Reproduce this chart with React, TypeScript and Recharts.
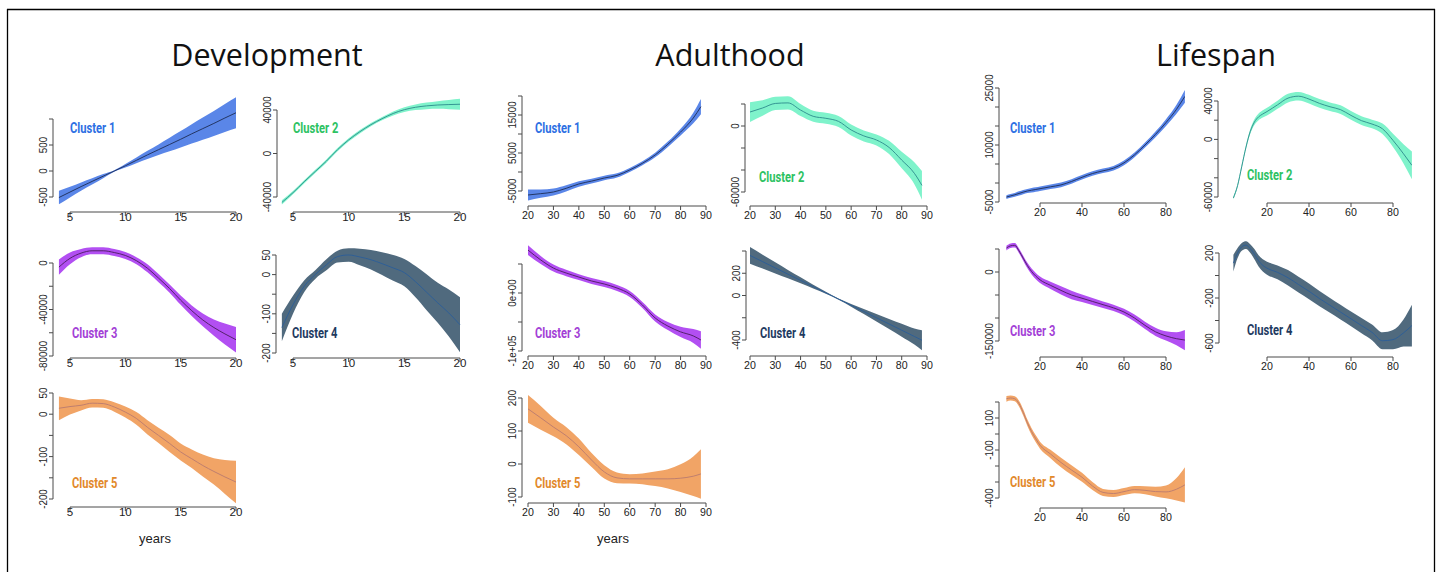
import React from 'react';
import { ComposedChart, Area, Line, XAxis, YAxis } from 'recharts';

// ---------- data ----------
const devYears = [4, 5, 6, 7, 8, 9, 10, 11, 12, 13, 14, 15, 16, 17, 18, 19, 20];
const adultYears = [20, 25, 30, 35, 40, 45, 50, 55, 60, 65, 70, 75, 80, 85, 88];
const lifeYears = [4, 6, 8, 10, 12, 14, 16, 18, 20, 25, 30, 35, 40, 45, 50, 55, 60, 65, 70, 75, 80, 85, 89];

const devXTicks = [5, 10, 15, 20];
const adultXTicks = [20, 30, 40, 50, 60, 70, 80, 90];
const lifeXTicks = [20, 40, 60, 80];

// Development
const devC1Mean = [-510, -405, -300, -200, -100, 0, 100, 205, 310, 410, 510, 610, 715, 815, 915, 1020, 1120];
const devC1Err = [130, 103, 80, 60, 40, 15, 35, 55, 78, 102, 130, 157, 185, 212, 240, 270, 300];
const devC2Mean = [-45000, -36000, -26000, -16500, -7000, 3500, 12500, 20000, 26500, 32000, 36800, 40300, 42500, 43800, 44600, 45000, 45300];
const devC2Err = [2000, 1500, 1500, 1500, 1500, 1500, 1500, 1500, 1500, 1500, 1800, 2200, 2600, 3000, 3500, 4200, 5000];
const devC3Mean = [-3500, 4000, 8500, 10500, 10500, 9000, 6500, 2000, -4500, -13000, -22000, -32000, -41000, -49000, -55500, -61000, -66000];
const devC3Err = [6500, 5000, 3500, 3000, 3000, 3000, 3000, 3000, 3500, 3500, 3500, 4000, 4500, 5500, 7000, 9000, 11000];
const devC4Mean = [-135, -77, -30, 0, 25, 46, 50, 45, 38, 28, 17, 5, -18, -45, -72, -98, -128];
const devC4Err = [35, 23, 15, 11, 14, 15, 17, 21, 25, 29, 33, 35, 40, 46, 51, 60, 70];
const devC5Mean = [14, 18, 21, 26, 25, 17, 5, -10, -31, -50, -69, -89, -105, -121, -135, -148, -160];
const devC5Err = [28, 19, 12, 10, 10, 11, 13, 15, 17, 18, 20, 20, 22, 26, 31, 40, 50];

// Adulthood
const adultC1Mean = [-6050, -5700, -5260, -4300, -3150, -2400, -1580, -900, 530, 2300, 4470, 7300, 10500, 14200, 17200];
const adultC1Err = [1450, 1100, 900, 800, 700, 650, 600, 550, 500, 500, 600, 700, 900, 1400, 2000];
const adultC2Mean = [12700, 16400, 20500, 21000, 14500, 8800, 7000, 4200, -3600, -9000, -12700, -19500, -31000, -43000, -54000];
const adultC2Err = [9000, 7000, 6000, 6000, 5500, 5000, 5000, 5000, 5000, 5000, 5000, 6000, 7500, 10000, 13000];
const adultC3Mean = [74000, 57000, 43000, 34500, 27500, 20700, 15500, 8600, -1700, -20700, -43000, -57000, -67000, -74000, -81000];
const adultC3Err = [8500, 7000, 6000, 5500, 5000, 5000, 5000, 5000, 5000, 5000, 6000, 7000, 9000, 12000, 15000];
const adultC4Mean = [360, 304, 248, 192, 136, 80, 24, -32, -88, -144, -200, -256, -312, -368, -402];
const adultC4Err = [75, 62, 50, 38, 27, 17, 9, 6, 12, 22, 33, 45, 58, 72, 90];
const adultC5Mean = [167, 140, 112, 86, 52, 12, -24, -42, -45, -45, -45, -45, -43, -37, -30];
const adultC5Err = [42, 36, 28, 26, 25, 21, 20, 16, 14, 16, 22, 29, 42, 60, 75];

// Lifespan
const lifeC1Mean = [-3700, -3400, -3100, -2750, -2400, -2100, -1900, -1700, -1500, -1000, -500, 400, 1500, 2500, 3200, 3900, 5300, 7400, 10000, 12800, 15900, 19400, 22800];
const lifeC1Err = [500, 500, 500, 550, 550, 550, 600, 600, 600, 600, 600, 600, 600, 600, 600, 600, 600, 600, 650, 750, 900, 1200, 1700];
const lifeC2Mean = [-61000, -48000, -28000, -8000, 8000, 18000, 23500, 26500, 29000, 36000, 43000, 45000, 42000, 37500, 34000, 31000, 25000, 19500, 16000, 11000, -1000, -15000, -27000];
const lifeC2Err = [1500, 1500, 2000, 2000, 2500, 3000, 3500, 3800, 4000, 4200, 4500, 4500, 4500, 4500, 4500, 4500, 4500, 4500, 4500, 5500, 7000, 10000, 14500];
const lifeC3Mean = [52000, 57000, 58000, 46000, 30000, 14000, 1000, -9000, -17000, -29000, -40000, -50000, -57000, -64000, -71000, -78000, -87000, -100000, -116000, -130000, -139000, -145000, -148000];
const lifeC3Err = [5000, 5000, 5000, 5000, 5500, 6000, 6500, 7000, 7000, 8000, 9000, 9000, 8000, 7500, 7000, 7000, 7000, 7500, 8000, 9000, 10000, 14000, 22000];
const lifeC4Mean = [110, 200, 255, 270, 240, 190, 130, 90, 65, 28, -20, -80, -140, -205, -265, -325, -385, -445, -505, -580, -570, -510, -445];
const lifeC4Err = [75, 45, 35, 35, 38, 45, 50, 55, 58, 62, 68, 70, 70, 68, 65, 65, 65, 68, 70, 75, 85, 120, 185];
const lifeC5Mean = [220, 225, 220, 190, 135, 70, 15, -30, -70, -125, -178, -225, -270, -325, -365, -372, -360, -348, -352, -360, -362, -345, -318];
const lifeC5Err = [18, 16, 16, 18, 20, 20, 21, 22, 22, 26, 30, 30, 28, 25, 22, 22, 22, 23, 25, 30, 40, 70, 110];

// y ticks and their printed labels ('' = tick without label, as R drops overlapping ones)
const devC1YTicks = [-500, 0, 500, 1000];
const devC1YLabels = ['-500', '0', '500', ''];
const devC2YTicks = [-40000, 0, 40000];
const devC2YLabels = ['-40000', '0', '40000'];
const devC3YTicks = [-80000, -60000, -40000, -20000, 0];
const devC3YLabels = ['-80000', '', '-40000', '', '0'];
const devC4YTicks = [-200, -150, -100, -50, 0, 50];
const devC4YLabels = ['-200', '', '-100', '', '0', '50'];
const devC5YTicks = [-200, -150, -100, -50, 0, 50];
const devC5YLabels = ['-200', '', '-100', '', '0', '50'];

const adultC1YTicks = [-5000, 0, 5000, 10000, 15000, 20000];
const adultC1YLabels = ['-5000', '', '5000', '', '15000', ''];
const adultC2YTicks = [-60000, -40000, -20000, 0, 20000];
const adultC2YLabels = ['-60000', '', '', '0', ''];
const adultC3YTicks = [-100000, -50000, 0, 50000];
const adultC3YLabels = ['-1e+05', '', '0e+00', ''];
const adultC4YTicks = [-400, -200, 0, 200, 400];
const adultC4YLabels = ['-400', '', '0', '200', ''];
const adultC5YTicks = [-100, 0, 100, 200];
const adultC5YLabels = ['-100', '0', '100', '200'];

const lifeC1YTicks = [-5000, 0, 5000, 10000, 15000, 20000, 25000];
const lifeC1YLabels = ['-5000', '', '', '10000', '', '', '25000'];
const lifeC2YTicks = [-60000, -40000, -20000, 0, 20000, 40000];
const lifeC2YLabels = ['-60000', '', '', '0', '', '40000'];
const lifeC3YTicks = [-150000, -100000, -50000, 0, 50000];
const lifeC3YLabels = ['-150000', '', '', '0', ''];
const lifeC4YTicks = [-600, -400, -200, 0, 200];
const lifeC4YLabels = ['-600', '', '-200', '', '200'];
const lifeC5YTicks = [-400, -300, -200, -100, 0, 100, 200];
const lifeC5YLabels = ['-400', '', '', '-100', '', '100', ''];

// ---------- styling ----------
const CLUSTERS = [
  { name: 'Cluster 1', fill: '#5a86e8', line: '#1d2c55', text: '#2d6fe3' },
  { name: 'Cluster 2', fill: '#7ff3cb', line: '#2c8a8c', text: '#2dc262' },
  { name: 'Cluster 3', fill: '#b24ff2', line: '#4a1d5c', text: '#a33fd6' },
  { name: 'Cluster 4', fill: '#506a7e', line: '#2a5d9a', text: '#1e3a5f' },
  { name: 'Cluster 5', fill: '#f1a466', line: '#b97a6f', text: '#e2892b' },
];

const AXIS = '#4a4a4a';
const TICK_FONT = "'Liberation Sans', Arial, sans-serif";
const DEV_TEXT = { xFs: 10.5, xSx: 1.1, xDy: 9 };
const WIDE_TEXT = { xFs: 11.2, xSx: 0.95, xDy: 12.5 };

const YW = 45; // y-axis gutter
const XH = 26; // x-axis gutter
const MT = 22; // room above the plot for the top tick label
const MR = 14;

type Ref = [[number, number], [number, number]];
type Panel = {
  id: string;
  cluster: number;
  years: number[];
  mean: number[];
  err: number[];
  xTicks: number[];
  yTicks: number[];
  yLabels: string[];
  box: { left: number; right: number; top: number; bottom: number };
  xRef: Ref;
  yRef: Ref;
  label: [number, number];
  text: { xFs: number; xSx: number; xDy: number };
};

const DEV_X: Ref = [[5, 70], [20, 236]];
const DEV_X2: Ref = [[5, 293], [20, 460]];
const AD_X: Ref = [[20, 528], [90, 706]];
const AD_X2: Ref = [[20, 750], [90, 927]];
const LF_X: Ref = [[20, 1040], [80, 1166]];
const LF_X2: Ref = [[20, 1267], [80, 1393]];

const panels: Panel[] = [
  { id: 'd1', cluster: 0, years: devYears, mean: devC1Mean, err: devC1Err, xTicks: devXTicks, yTicks: devC1YTicks, yLabels: devC1YLabels,
    box: { left: 53, right: 244, top: 95, bottom: 212 }, xRef: DEV_X, yRef: [[-500, 197], [1000, 119]], label: [70, 133], text: DEV_TEXT },
  { id: 'd2', cluster: 1, years: devYears, mean: devC2Mean, err: devC2Err, xTicks: devXTicks, yTicks: devC2YTicks, yLabels: devC2YLabels,
    box: { left: 277, right: 468, top: 95, bottom: 212 }, xRef: DEV_X2, yRef: [[-40000, 197], [40000, 110]], label: [293, 133], text: DEV_TEXT },
  { id: 'd3', cluster: 2, years: devYears, mean: devC3Mean, err: devC3Err, xTicks: devXTicks, yTicks: devC3YTicks, yLabels: devC3YLabels,
    box: { left: 53, right: 244, top: 243, bottom: 358 }, xRef: DEV_X, yRef: [[-80000, 356], [0, 263]], label: [72, 338], text: DEV_TEXT },
  { id: 'd4', cluster: 3, years: devYears, mean: devC4Mean, err: devC4Err, xTicks: devXTicks, yTicks: devC4YTicks, yLabels: devC4YLabels,
    box: { left: 276, right: 468, top: 243, bottom: 358 }, xRef: DEV_X2, yRef: [[-200, 353], [50, 255]], label: [292, 338], text: DEV_TEXT },
  { id: 'd5', cluster: 4, years: devYears, mean: devC5Mean, err: devC5Err, xTicks: devXTicks, yTicks: devC5YTicks, yLabels: devC5YLabels,
    box: { left: 53, right: 244, top: 388, bottom: 507 }, xRef: DEV_X, yRef: [[-200, 499], [50, 393]], label: [72, 488], text: DEV_TEXT },

  { id: 'a1', cluster: 0, years: adultYears, mean: adultC1Mean, err: adultC1Err, xTicks: adultXTicks, yTicks: adultC1YTicks, yLabels: adultC1YLabels,
    box: { left: 522, right: 709, top: 93, bottom: 206 }, xRef: AD_X, yRef: [[-5000, 191], [20000, 96]], label: [535, 133], text: WIDE_TEXT },
  { id: 'a2', cluster: 1, years: adultYears, mean: adultC2Mean, err: adultC2Err, xTicks: adultXTicks, yTicks: adultC2YTicks, yLabels: adultC2YLabels,
    box: { left: 745, right: 930, top: 93, bottom: 206 }, xRef: AD_X2, yRef: [[-60000, 192], [20000, 104]], label: [759, 182], text: WIDE_TEXT },
  { id: 'a3', cluster: 2, years: adultYears, mean: adultC3Mean, err: adultC3Err, xTicks: adultXTicks, yTicks: adultC3YTicks, yLabels: adultC3YLabels,
    box: { left: 522, right: 709, top: 242, bottom: 356 }, xRef: AD_X, yRef: [[-100000, 351], [50000, 264]], label: [535, 338], text: WIDE_TEXT },
  { id: 'a4', cluster: 3, years: adultYears, mean: adultC4Mean, err: adultC4Err, xTicks: adultXTicks, yTicks: adultC4YTicks, yLabels: adultC4YLabels,
    box: { left: 746, right: 930, top: 242, bottom: 356 }, xRef: AD_X2, yRef: [[-400, 340], [400, 251]], label: [760, 338], text: WIDE_TEXT },
  { id: 'a5', cluster: 4, years: adultYears, mean: adultC5Mean, err: adultC5Err, xTicks: adultXTicks, yTicks: adultC5YTicks, yLabels: adultC5YLabels,
    box: { left: 522, right: 709, top: 390, bottom: 503 }, xRef: AD_X, yRef: [[-100, 497], [200, 398]], label: [535, 488], text: WIDE_TEXT },

  { id: 'l1', cluster: 0, years: lifeYears, mean: lifeC1Mean, err: lifeC1Err, xTicks: lifeXTicks, yTicks: lifeC1YTicks, yLabels: lifeC1YLabels,
    box: { left: 999, right: 1185, top: 85, bottom: 203 }, xRef: LF_X, yRef: [[-5000, 202], [25000, 88]], label: [1010, 133], text: WIDE_TEXT },
  { id: 'l2', cluster: 1, years: lifeYears, mean: lifeC2Mean, err: lifeC2Err, xTicks: lifeXTicks, yTicks: lifeC2YTicks, yLabels: lifeC2YLabels,
    box: { left: 1218, right: 1412, top: 85, bottom: 203 }, xRef: LF_X2, yRef: [[-60000, 197], [40000, 101]], label: [1247, 180], text: WIDE_TEXT },
  { id: 'l3', cluster: 2, years: lifeYears, mean: lifeC3Mean, err: lifeC3Err, xTicks: lifeXTicks, yTicks: lifeC3YTicks, yLabels: lifeC3YLabels,
    box: { left: 999, right: 1185, top: 240, bottom: 357 }, xRef: LF_X, yRef: [[-150000, 341], [50000, 249]], label: [1010, 336], text: WIDE_TEXT },
  { id: 'l4', cluster: 3, years: lifeYears, mean: lifeC4Mean, err: lifeC4Err, xTicks: lifeXTicks, yTicks: lifeC4YTicks, yLabels: lifeC4YLabels,
    box: { left: 1219, right: 1412, top: 240, bottom: 357 }, xRef: LF_X2, yRef: [[-600, 343], [200, 253]], label: [1247, 335], text: WIDE_TEXT },
  { id: 'l5', cluster: 4, years: lifeYears, mean: lifeC5Mean, err: lifeC5Err, xTicks: lifeXTicks, yTicks: lifeC5YTicks, yLabels: lifeC5YLabels,
    box: { left: 999, right: 1185, top: 392, bottom: 508 }, xRef: LF_X, yRef: [[-400, 498], [200, 402]], label: [1010, 487], text: WIDE_TEXT },
];

function renderXTick(props: any, p: Panel, pxX: number) {
  const { x, y, payload } = props;
  const first = p.xTicks[0];
  const last = p.xTicks[p.xTicks.length - 1];
  return (
    <g>
      {payload.value === first && (
        <line x1={x} y1={y} x2={x + (last - first) * pxX} y2={y} stroke={AXIS} strokeWidth={1} />
      )}
      <line x1={x} y1={y} x2={x} y2={y + 4} stroke={AXIS} strokeWidth={1} />
      <text
        transform={`translate(${x},${y + p.text.xDy}) scale(${p.text.xSx},1)`}
        textAnchor="middle"
        fontSize={p.text.xFs}
        fontFamily={TICK_FONT}
        fill="#222"
      >
        {payload.value}
      </text>
    </g>
  );
}

function renderYTick(props: any, p: Panel, pxY: number) {
  const { x, y, payload } = props;
  const lo = Math.min(...p.yTicks);
  const hi = Math.max(...p.yTicks);
  const idx = p.yTicks.indexOf(payload.value);
  const label = idx >= 0 ? p.yLabels[idx] : '';
  return (
    <g>
      {payload.value === lo && (
        <line x1={x} y1={y} x2={x} y2={y + (hi - lo) * pxY} stroke={AXIS} strokeWidth={1} />
      )}
      <line x1={x - 4} y1={y} x2={x} y2={y} stroke={AXIS} strokeWidth={1} />
      <text
        transform={`translate(${x - 6},${y}) scale(1.1,1) rotate(-90)`}
        textAnchor="middle"
        fontSize={9.8}
        fontFamily={TICK_FONT}
        fill="#222"
      >
        {label}
      </text>
    </g>
  );
}

function PanelChart({ p }: { p: Panel }) {
  const { left, right, top, bottom } = p.box;
  const pxX = (p.xRef[1][1] - p.xRef[0][1]) / (p.xRef[1][0] - p.xRef[0][0]);
  const pxY = (p.yRef[1][1] - p.yRef[0][1]) / (p.yRef[1][0] - p.yRef[0][0]);
  const x0 = p.xRef[0][0] + (left - p.xRef[0][1]) / pxX;
  const x1 = p.xRef[0][0] + (right - p.xRef[0][1]) / pxX;
  const y0 = p.yRef[0][0] + (bottom - p.yRef[0][1]) / pxY;
  const y1 = p.yRef[0][0] + (top - p.yRef[0][1]) / pxY;
  const c = CLUSTERS[p.cluster];

  const rows = p.years.map((yr, i) => ({
    yr,
    mean: p.mean[i],
    band: [p.mean[i] - p.err[i], p.mean[i] + p.err[i]],
  }));

  const width = YW + (right - left) + MR;
  const height = MT + (bottom - top) + XH;

  return (
    <div style={{ position: 'absolute', left: left - YW, top: top - MT }}>
      <ComposedChart width={width} height={height} data={rows} margin={{ top: MT, right: MR, left: 0, bottom: 0 }}>
        <XAxis
          type="number"
          dataKey="yr"
          domain={[x0, x1]}
          allowDataOverflow
          ticks={p.xTicks}
          interval={0}
          axisLine={false}
          tickLine={false}
          tickSize={0}
          tickMargin={0}
          height={XH}
          tick={(props: any) => renderXTick(props, p, pxX)}
        />
        <YAxis
          type="number"
          domain={[y0, y1]}
          allowDataOverflow
          ticks={p.yTicks}
          interval={0}
          axisLine={false}
          tickLine={false}
          tickSize={0}
          tickMargin={0}
          width={YW}
          tick={(props: any) => renderYTick(props, p, pxY)}
        />
        <Area
          dataKey="band"
          type="monotone"
          fill={c.fill}
          fillOpacity={1}
          stroke="none"
          isAnimationActive={false}
        />
        <Line
          dataKey="mean"
          type="monotone"
          stroke={c.line}
          strokeWidth={0.9}
          dot={false}
          activeDot={false}
          isAnimationActive={false}
        />
      </ComposedChart>
    </div>
  );
}

export default function App() {
  return (
    <div style={{ position: 'relative', width: 1445, height: 572, overflow: 'hidden', background: '#fff' }}>
      <style>{'body{margin:0}'}</style>
      <svg width={1445} height={572} style={{ position: 'absolute', left: 0, top: 0 }}>
        <line x1={7} y1={9.5} x2={1435} y2={9.5} stroke="#000" strokeWidth={1.3} />
        <line x1={7.5} y1={9} x2={7.5} y2={572} stroke="#000" strokeWidth={1.3} />
        <line x1={1434.5} y1={9} x2={1434.5} y2={572} stroke="#000" strokeWidth={1.3} />
        <g fontFamily="'Open Sans', 'Noto Sans', sans-serif" fontSize={30.5} fill="#111" textAnchor="middle">
          <text x={267} y={66}>Development</text>
          <text x={730} y={66}>Adulthood</text>
          <text x={1216} y={66}>Lifespan</text>
        </g>
        <g fontFamily={TICK_FONT} fontSize={13} fill="#222" textAnchor="middle">
          <text x={155} y={543}>years</text>
          <text x={613} y={543}>years</text>
        </g>
      </svg>
      {panels.map((p) => (
        <PanelChart key={p.id} p={p} />
      ))}
      <svg width={1445} height={572} style={{ position: 'absolute', left: 0, top: 0, pointerEvents: 'none' }}>
        <g fontFamily="Roboto, 'Liberation Sans', sans-serif" fontWeight={700} fontSize={15.5}>
          {panels.map((p) => (
            <text
              key={p.id}
              transform={`translate(${p.label[0]},${p.label[1]}) scale(0.72,1)`}
              fill={CLUSTERS[p.cluster].text}
            >
              {CLUSTERS[p.cluster].name}
            </text>
          ))}
        </g>
      </svg>
    </div>
  );
}
